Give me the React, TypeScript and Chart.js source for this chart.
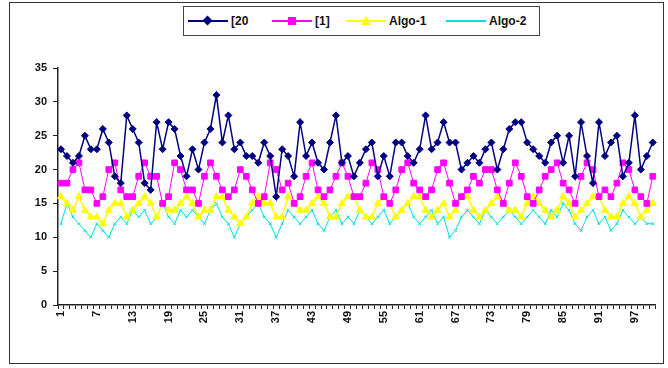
import React, { useEffect, useRef } from "react";
import { Chart, registerables } from "chart.js";

Chart.register(...registerables);

const categories: string[] = Array.from({ length: 100 }, (_, i) => String(i + 1));

const series20: number[] = [
  23, 22, 21, 22, 25, 23, 23, 26, 24, 19, 18, 28, 26, 24, 18, 17, 27, 23, 27, 26,
  22, 19, 23, 20, 24, 26, 31, 24, 28, 23, 24, 22, 22, 21, 24, 22, 16, 23, 22, 19,
  27, 22, 24, 21, 20, 24, 28, 21, 22, 19, 21, 23, 24, 19, 22, 19, 24, 24, 22, 21,
  23, 28, 23, 24, 27, 24, 24, 20, 21, 22, 21, 23, 24, 20, 23, 26, 27, 27, 24, 23,
  22, 21, 24, 25, 21, 25, 19, 27, 22, 18, 27, 22, 24, 25, 19, 21, 28, 20, 22, 24,
];

const series1: number[] = [
  18, 18, 20, 21, 17, 17, 15, 16, 20, 21, 17, 16, 16, 19, 21, 19, 19, 15, 16, 21,
  20, 17, 17, 15, 19, 21, 19, 17, 16, 17, 20, 19, 17, 15, 16, 21, 20, 17, 18, 15,
  16, 19, 21, 17, 16, 17, 19, 21, 19, 16, 16, 18, 21, 20, 16, 15, 17, 20, 21, 18,
  17, 16, 17, 20, 21, 18, 15, 16, 17, 19, 18, 20, 20, 17, 15, 18, 21, 19, 16, 15,
  17, 19, 20, 21, 18, 17, 15, 19, 21, 20, 16, 17, 16, 18, 21, 20, 17, 16, 15, 19,
];

const algo1: number[] = [
  16, 15, 14, 16, 14, 13, 13, 12, 14, 15, 15, 13, 14, 15, 16, 15, 13, 15, 14, 14,
  15, 16, 15, 13, 14, 14, 16, 16, 14, 13, 12, 13, 15, 16, 15, 15, 13, 13, 16, 15,
  14, 14, 15, 16, 15, 13, 13, 15, 16, 16, 14, 13, 13, 15, 16, 15, 13, 14, 15, 16,
  16, 14, 13, 14, 15, 13, 14, 16, 16, 14, 13, 14, 15, 16, 15, 14, 14, 13, 15, 16,
  15, 14, 13, 14, 16, 15, 13, 14, 15, 16, 16, 14, 13, 13, 15, 16, 15, 13, 14, 15,
];

const algo2: number[] = [
  12, 15, 13, 12, 11, 10, 12, 11, 10, 12, 13, 12, 14, 13, 14, 12, 13, 15, 13, 12,
  14, 13, 14, 13, 12, 14, 15, 13, 12, 10, 12, 13, 14, 15, 13, 12, 10, 12, 14, 13,
  12, 13, 14, 12, 11, 13, 14, 12, 13, 12, 14, 13, 12, 13, 14, 12, 13, 14, 15, 13,
  12, 13, 14, 12, 13, 10, 11, 13, 14, 13, 12, 14, 13, 12, 13, 14, 13, 12, 13, 14,
  13, 12, 14, 13, 15, 14, 12, 11, 13, 14, 12, 13, 11, 12, 14, 13, 12, 13, 12, 12,
];

const seriesNames: string[] = ["[20", "[1]", "Algo-1", "Algo-2"];
const yTicks: number[] = [0, 5, 10, 15, 20, 25, 30, 35];

const FONT = "'Liberation Sans', Arial, sans-serif";

export default function App() {
  const ref = useRef<HTMLCanvasElement | null>(null);

  useEffect(() => {
    if (!ref.current) return;
    const chart = new Chart(ref.current, {
      type: "line",
      data: {
        labels: categories,
        datasets: [
          {
            label: seriesNames[0],
            data: series20,
            borderColor: "#000080",
            backgroundColor: "#000080",
            borderWidth: 1.5,
            pointStyle: "rectRot",
            pointRadius: 3.5,
            pointBorderWidth: 1,
            tension: 0,
          },
          {
            label: seriesNames[1],
            data: series1,
            borderColor: "#ff00ff",
            backgroundColor: "#ff00ff",
            borderWidth: 1,
            pointStyle: "rect",
            pointRadius: 4,
            pointBorderWidth: 1,
            tension: 0,
          },
          {
            label: seriesNames[2],
            data: algo1,
            borderColor: "#ffff00",
            backgroundColor: "#ffff00",
            borderWidth: 1.5,
            pointStyle: "triangle",
            pointRadius: 4,
            pointBorderWidth: 1,
            tension: 0,
          },
          {
            label: seriesNames[3],
            data: algo2,
            borderColor: "#00e0e0",
            backgroundColor: "#00e0e0",
            borderWidth: 1,
            pointStyle: "crossRot",
            pointRadius: 2,
            pointBorderWidth: 1,
            tension: 0,
          },
        ],
      },
      options: {
        animation: false,
        responsive: false,
        maintainAspectRatio: false,
        layout: { padding: { top: 68, right: 5, bottom: 0, left: 0 } },
        plugins: {
          legend: { display: false },
          tooltip: { enabled: false },
        },
        scales: {
          x: {
            type: "category",
            offset: true,
            afterFit: (scale: any) => {
              scale.height = 63;
            },
            border: { display: true, color: "#222", width: 1.5 },
            grid: {
              display: true,
              offset: true,
              drawOnChartArea: false,
              drawTicks: true,
              tickLength: 4,
              color: "#222",
            },
            ticks: {
              autoSkip: false,
              maxRotation: 90,
              minRotation: 90,
              padding: 2,
              color: "#111",
              font: { family: FONT, size: 11, weight: "bold" },
              callback: (_v: any, i: number) => (i % 6 === 0 ? categories[i] : ""),
            },
          },
          y: {
            min: 0,
            max: 35,
            afterFit: (scale: any) => {
              scale.width = 58;
            },
            afterBuildTicks: (scale: any) => {
              scale.ticks = yTicks.map((v) => ({ value: v }));
            },
            border: { display: true, color: "#222", width: 1.5 },
            grid: {
              display: true,
              drawOnChartArea: false,
              drawTicks: true,
              tickLength: 5,
              color: "#222",
            },
            ticks: {
              padding: 6,
              color: "#111",
              font: { family: FONT, size: 11, weight: "bold" },
            },
          },
        },
      },
    });
    return () => chart.destroy();
  }, []);

  const legendItem = (color: string, marker: React.ReactNode, text: string, left: number) => (
    <div style={{ position: "absolute", left, top: 0, height: 28, display: "flex", alignItems: "center" }}>
      <div style={{ position: "relative", width: 40, height: 10 }}>
        <div style={{ position: "absolute", left: 0, right: 0, top: 4, height: 2, background: color }} />
        {marker}
      </div>
      <span style={{ marginLeft: 3, fontFamily: FONT, fontSize: 12, fontWeight: "bold", color: "#111" }}>{text}</span>
    </div>
  );

  return (
    <div style={{ position: "fixed", left: 0, top: 0, width: 668, height: 368, background: "#fff" }}>
      <div
        style={{
          position: "absolute",
          left: 9,
          top: 2,
          width: 655,
          height: 362,
          border: "1.5px solid #333",
          boxSizing: "border-box",
        }}
      />
      <canvas ref={ref} width={668} height={368} style={{ position: "absolute", left: 0, top: 0 }} />
      <div
        style={{
          position: "absolute",
          left: 183,
          top: 6,
          width: 357,
          height: 30,
          border: "1.5px solid #444",
          boxSizing: "border-box",
          background: "#fff",
        }}
      >
        {legendItem(
          "#000080",
          <div style={{ position: "absolute", left: 16, top: 1, width: 7, height: 7, background: "#000080", transform: "rotate(45deg)" }} />,
          seriesNames[0],
          4
        )}
        {legendItem(
          "#ff00ff",
          <div style={{ position: "absolute", left: 16, top: 1, width: 8, height: 8, background: "#ff00ff" }} />,
          seriesNames[1],
          88
        )}
        {legendItem(
          "#ffff00",
          <div style={{ position: "absolute", left: 15, top: 0, width: 0, height: 0, borderLeft: "5px solid transparent", borderRight: "5px solid transparent", borderBottom: "9px solid #ffff00" }} />,
          seriesNames[2],
          162
        )}
        {legendItem("#00e0e0", null, seriesNames[3], 262)}
      </div>
    </div>
  );
}
